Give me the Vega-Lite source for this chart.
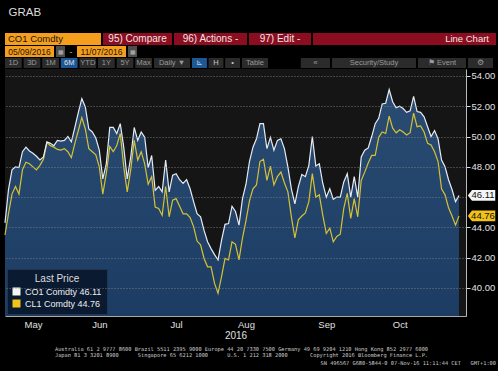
{
"$schema": "https://vega.github.io/schema/vega-lite/v6.json",
"background": "#000000",
"padding": {"left": 2, "top": 6, "right": 2, "bottom": 4},
"title": {"text": "GRAB", "anchor": "start", "dx": 6, "fontSize": 11.5, "fontWeight": "normal", "color": "#dddddd", "offset": 15},
"config": {"view": {"stroke": null}, "font": "Liberation Sans", "axis": {"labelOverlap": false}, "axisY": {"labelOverlap": false}, "axisQuantitative": {"labelOverlap": false}, "axisRight": {"labelOverlap": false}},
"spacing": 1,
"resolve": {"legend": {"fill": "independent"}, "scale": {"fill": "independent"}},
"datasets": {"prices": [
{"d":"2016-05-09","CO1":44.3,"CL1":43.5},{"d":"2016-05-10","CO1":46.5,"CL1":44.9},{"d":"2016-05-11","CO1":47.8,"CL1":46.2},{"d":"2016-05-12","CO1":48.0,"CL1":46.7},{"d":"2016-05-13","CO1":47.95,"CL1":46.2},
{"d":"2016-05-16","CO1":49.0,"CL1":47.8},{"d":"2016-05-17","CO1":49.3,"CL1":48.3},{"d":"2016-05-18","CO1":49.05,"CL1":48.2},{"d":"2016-05-19","CO1":48.9,"CL1":48.0},{"d":"2016-05-20","CO1":48.7,"CL1":47.8},
{"d":"2016-05-23","CO1":48.45,"CL1":48.1},{"d":"2016-05-24","CO1":48.65,"CL1":48.5},{"d":"2016-05-25","CO1":49.65,"CL1":49.6},{"d":"2016-05-26","CO1":49.55,"CL1":49.4},{"d":"2016-05-27","CO1":49.4,"CL1":49.3},
{"d":"2016-05-30","CO1":49.75,"CL1":49.15},{"d":"2016-05-31","CO1":49.7,"CL1":49.1},{"d":"2016-06-01","CO1":49.75,"CL1":49.2},{"d":"2016-06-02","CO1":50.0,"CL1":49.0},{"d":"2016-06-03","CO1":49.65,"CL1":48.6},
{"d":"2016-06-06","CO1":50.6,"CL1":49.55},{"d":"2016-06-07","CO1":51.6,"CL1":50.4},{"d":"2016-06-08","CO1":52.5,"CL1":51.25},{"d":"2016-06-09","CO1":51.95,"CL1":50.5},{"d":"2016-06-10","CO1":50.5,"CL1":49.2},
{"d":"2016-06-13","CO1":50.3,"CL1":49.0},{"d":"2016-06-14","CO1":49.9,"CL1":48.8},{"d":"2016-06-15","CO1":49.1,"CL1":48.0},{"d":"2016-06-16","CO1":47.2,"CL1":46.2},{"d":"2016-06-17","CO1":48.2,"CL1":47.55},
{"d":"2016-06-20","CO1":50.6,"CL1":49.35},{"d":"2016-06-21","CO1":50.6,"CL1":49.0},{"d":"2016-06-22","CO1":50.2,"CL1":49.4},{"d":"2016-06-23","CO1":50.85,"CL1":50.2},{"d":"2016-06-24","CO1":49.3,"CL1":48.0},
{"d":"2016-06-27","CO1":47.2,"CL1":46.35},{"d":"2016-06-28","CO1":48.65,"CL1":47.8},{"d":"2016-06-29","CO1":50.6,"CL1":49.75},{"d":"2016-06-30","CO1":49.75,"CL1":48.45},{"d":"2016-07-01","CO1":50.3,"CL1":49.0},
{"d":"2016-07-04","CO1":49.95,"CL1":48.2},{"d":"2016-07-05","CO1":47.95,"CL1":46.85},{"d":"2016-07-06","CO1":48.75,"CL1":47.35},{"d":"2016-07-07","CO1":46.45,"CL1":45.35},{"d":"2016-07-08","CO1":46.7,"CL1":45.25},
{"d":"2016-07-11","CO1":46.35,"CL1":44.8},{"d":"2016-07-12","CO1":48.45,"CL1":46.7},{"d":"2016-07-13","CO1":46.35,"CL1":44.7},{"d":"2016-07-14","CO1":47.45,"CL1":45.8},{"d":"2016-07-15","CO1":47.55,"CL1":45.9},
{"d":"2016-07-18","CO1":47.15,"CL1":45.4},{"d":"2016-07-19","CO1":46.9,"CL1":44.9},{"d":"2016-07-20","CO1":47.15,"CL1":44.9},{"d":"2016-07-21","CO1":46.55,"CL1":44.65},{"d":"2016-07-22","CO1":45.7,"CL1":44.05},
{"d":"2016-07-25","CO1":44.9,"CL1":43.1},{"d":"2016-07-26","CO1":44.7,"CL1":42.85},{"d":"2016-07-27","CO1":43.8,"CL1":41.95},{"d":"2016-07-28","CO1":43.05,"CL1":41.4},{"d":"2016-07-29","CO1":42.6,"CL1":41.4},
{"d":"2016-08-01","CO1":42.2,"CL1":40.3},{"d":"2016-08-02","CO1":41.85,"CL1":39.65},{"d":"2016-08-03","CO1":43.15,"CL1":40.75},{"d":"2016-08-04","CO1":44.2,"CL1":41.95},{"d":"2016-08-05","CO1":44.25,"CL1":41.85},
{"d":"2016-08-08","CO1":45.4,"CL1":43.05},{"d":"2016-08-09","CO1":45.05,"CL1":42.88},{"d":"2016-08-10","CO1":44.15,"CL1":41.85},{"d":"2016-08-11","CO1":45.9,"CL1":43.3},{"d":"2016-08-12","CO1":46.85,"CL1":44.45},
{"d":"2016-08-15","CO1":48.35,"CL1":45.75},{"d":"2016-08-16","CO1":49.3,"CL1":46.55},{"d":"2016-08-17","CO1":49.85,"CL1":46.8},{"d":"2016-08-18","CO1":50.85,"CL1":48.35},{"d":"2016-08-19","CO1":50.85,"CL1":48.5},
{"d":"2016-08-22","CO1":49.2,"CL1":47.1},{"d":"2016-08-23","CO1":49.95,"CL1":48.05},{"d":"2016-08-24","CO1":49.1,"CL1":46.8},{"d":"2016-08-25","CO1":49.75,"CL1":47.35},{"d":"2016-08-26","CO1":49.85,"CL1":47.65},
{"d":"2016-08-29","CO1":49.2,"CL1":46.95},{"d":"2016-08-30","CO1":48.0,"CL1":46.35},{"d":"2016-08-31","CO1":46.55,"CL1":44.7},{"d":"2016-09-01","CO1":45.55,"CL1":43.3},{"d":"2016-09-02","CO1":46.7,"CL1":44.5},
{"d":"2016-09-05","CO1":47.5,"CL1":44.75},{"d":"2016-09-06","CO1":47.35,"CL1":44.95},{"d":"2016-09-07","CO1":48.1,"CL1":45.7},{"d":"2016-09-08","CO1":50.0,"CL1":47.55},{"d":"2016-09-09","CO1":48.05,"CL1":46.0},
{"d":"2016-09-12","CO1":48.2,"CL1":46.15},{"d":"2016-09-13","CO1":46.9,"CL1":44.8},{"d":"2016-09-14","CO1":46.0,"CL1":43.6},{"d":"2016-09-15","CO1":46.55,"CL1":43.95},{"d":"2016-09-16","CO1":45.85,"CL1":43.05},
{"d":"2016-09-19","CO1":46.0,"CL1":43.4},{"d":"2016-09-20","CO1":46.0,"CL1":43.55},{"d":"2016-09-21","CO1":47.0,"CL1":45.25},{"d":"2016-09-22","CO1":47.55,"CL1":46.25},{"d":"2016-09-23","CO1":46.0,"CL1":44.6},
{"d":"2016-09-26","CO1":47.35,"CL1":45.9},{"d":"2016-09-27","CO1":46.0,"CL1":44.7},{"d":"2016-09-28","CO1":48.65,"CL1":47.1},{"d":"2016-09-29","CO1":49.1,"CL1":47.65},{"d":"2016-09-30","CO1":49.25,"CL1":48.25},
{"d":"2016-10-03","CO1":50.0,"CL1":48.75},{"d":"2016-10-04","CO1":50.85,"CL1":48.75},{"d":"2016-10-05","CO1":51.2,"CL1":49.95},{"d":"2016-10-06","CO1":52.15,"CL1":50.3},{"d":"2016-10-07","CO1":52.2,"CL1":50.2},
{"d":"2016-10-10","CO1":53.1,"CL1":51.35},{"d":"2016-10-11","CO1":52.3,"CL1":50.55},{"d":"2016-10-12","CO1":51.9,"CL1":50.25},{"d":"2016-10-13","CO1":52.0,"CL1":50.45},{"d":"2016-10-14","CO1":51.85,"CL1":50.3},
{"d":"2016-10-17","CO1":51.6,"CL1":50.1},{"d":"2016-10-18","CO1":51.7,"CL1":50.25},{"d":"2016-10-19","CO1":52.65,"CL1":51.55},{"d":"2016-10-20","CO1":51.65,"CL1":50.65},{"d":"2016-10-21","CO1":51.6,"CL1":50.7},
{"d":"2016-10-24","CO1":51.3,"CL1":50.3},{"d":"2016-10-25","CO1":50.65,"CL1":49.55},{"d":"2016-10-26","CO1":50.0,"CL1":49.45},{"d":"2016-10-27","CO1":50.4,"CL1":49.0},{"d":"2016-10-28","CO1":49.85,"CL1":48.35},
{"d":"2016-10-31","CO1":48.45,"CL1":46.55},{"d":"2016-11-01","CO1":48.0,"CL1":46.15},{"d":"2016-11-02","CO1":47.15,"CL1":45.3},{"d":"2016-11-03","CO1":46.5,"CL1":44.75},{"d":"2016-11-04","CO1":45.7,"CL1":44.15},
{"d":"2016-11-07","CO1":46.11,"CL1":44.76}
]},
"vconcat": [
{"spacing": 2, "hconcat": [
 {"width": 96, "height": 12, "data": {"values": [{"b": "CO1 Comdty"}]},
  "encoding": {"x": {"field": "b", "type": "nominal", "sort": null, "axis": null, "scale": {"paddingInner": 0, "paddingOuter": 0}}},
  "layer": [
   {"mark": {"type": "rect", "color": "#f59e1e"}},
   {"mark": {"type": "text", "align": "left", "dx": 3, "color": "#1c1408", "fontSize": 9.5},
    "encoding": {"x": {"field": "b", "type": "nominal", "sort": null, "axis": null, "bandPosition": 0}, "text": {"field": "b", "type": "nominal"}}}
  ]},
 {"width": 69, "height": 12, "data": {"values": [{"b": "95) Compare"}]},
  "encoding": {"x": {"field": "b", "type": "nominal", "sort": null, "axis": null, "scale": {"paddingInner": 0, "paddingOuter": 0}}},
  "layer": [
   {"mark": {"type": "rect", "color": "#8b0d1f"}},
   {"mark": {"type": "text", "color": "#f0e4e4", "fontSize": 10}, "encoding": {"text": {"field": "b", "type": "nominal"}}}
  ]},
 {"width": 73, "height": 12, "data": {"values": [{"b": "96) Actions -"}]},
  "encoding": {"x": {"field": "b", "type": "nominal", "sort": null, "axis": null, "scale": {"paddingInner": 0, "paddingOuter": 0}}},
  "layer": [
   {"mark": {"type": "rect", "color": "#8b0d1f"}},
   {"mark": {"type": "text", "color": "#f0e4e4", "fontSize": 10}, "encoding": {"text": {"field": "b", "type": "nominal"}}}
  ]},
 {"width": 62, "height": 12, "data": {"values": [{"b": "97) Edit -"}]},
  "encoding": {"x": {"field": "b", "type": "nominal", "sort": null, "axis": null, "scale": {"paddingInner": 0, "paddingOuter": 0}}},
  "layer": [
   {"mark": {"type": "rect", "color": "#8b0d1f"}},
   {"mark": {"type": "text", "color": "#f0e4e4", "fontSize": 10}, "encoding": {"text": {"field": "b", "type": "nominal"}}}
  ]},
 {"width": 183, "height": 12, "data": {"values": [{"b": "Line Chart"}]},
  "encoding": {"x": {"field": "b", "type": "nominal", "sort": null, "axis": null, "scale": {"paddingInner": 0, "paddingOuter": 0}}},
  "layer": [
   {"mark": {"type": "rect", "color": "#8b0d1f"}},
   {"mark": {"type": "text", "align": "right", "dx": -7, "color": "#f0e4e4", "fontSize": 9.5},
    "encoding": {"x": {"field": "b", "type": "nominal", "sort": null, "axis": null, "bandPosition": 1}, "text": {"field": "b", "type": "nominal"}}}
  ]}
]},
{"spacing": 2, "hconcat": [
 {"width": 49, "height": 11, "data": {"values": [{"b": "05/09/2016"}]},
  "encoding": {"x": {"field": "b", "type": "nominal", "sort": null, "axis": null, "scale": {"paddingInner": 0, "paddingOuter": 0}}},
  "layer": [
   {"mark": {"type": "rect", "color": "#f59e1e"}},
   {"mark": {"type": "text", "color": "#1c1408", "fontSize": 8.5}, "encoding": {"text": {"field": "b", "type": "nominal"}}}
  ]},
 {"width": 9, "height": 11, "data": {"values": [{"b": "▦"}]},
  "encoding": {"x": {"field": "b", "type": "nominal", "sort": null, "axis": null, "scale": {"paddingInner": 0, "paddingOuter": 0}}},
  "layer": [
   {"mark": {"type": "rect", "color": "#4d4d4d"}},
   {"mark": {"type": "text", "color": "#bbbbbb", "fontSize": 6}, "encoding": {"text": {"field": "b", "type": "nominal"}}}
  ]},
 {"width": 8, "height": 11, "data": {"values": [{"b": "-"}]},
  "mark": {"type": "text", "color": "#bbbbbb", "fontSize": 9},
  "encoding": {"x": {"field": "b", "type": "nominal", "axis": null}, "text": {"field": "b", "type": "nominal"}}},
 {"width": 49, "height": 11, "data": {"values": [{"b": "11/07/2016"}]},
  "encoding": {"x": {"field": "b", "type": "nominal", "sort": null, "axis": null, "scale": {"paddingInner": 0, "paddingOuter": 0}}},
  "layer": [
   {"mark": {"type": "rect", "color": "#f59e1e"}},
   {"mark": {"type": "text", "color": "#1c1408", "fontSize": 8.5}, "encoding": {"text": {"field": "b", "type": "nominal"}}}
  ]},
 {"width": 9, "height": 11, "data": {"values": [{"b": "▦"}]},
  "encoding": {"x": {"field": "b", "type": "nominal", "sort": null, "axis": null, "scale": {"paddingInner": 0, "paddingOuter": 0}}},
  "layer": [
   {"mark": {"type": "rect", "color": "#4d4d4d"}},
   {"mark": {"type": "text", "color": "#bbbbbb", "fontSize": 6}, "encoding": {"text": {"field": "b", "type": "nominal"}}}
  ]}
]},
{"spacing": 2, "hconcat": [
 {"width": 147, "height": 10, "data": {"values": [{"b": "1D"}, {"b": "3D"}, {"b": "1M"}, {"b": "6M"}, {"b": "YTD"}, {"b": "1Y"}, {"b": "5Y"}, {"b": "Max"}]},
  "encoding": {"x": {"field": "b", "type": "nominal", "sort": null, "axis": null, "scale": {"paddingInner": 0.1, "paddingOuter": 0}}},
  "layer": [
   {"mark": {"type": "rect"}, "encoding": {"fill": {"condition": {"test": "datum.b === '6M'", "value": "#1c5896"}, "value": "#2b2b2b"}}},
   {"mark": {"type": "text", "fontSize": 7.5}, "encoding": {"text": {"field": "b", "type": "nominal"}, "color": {"condition": {"test": "datum.b === '6M'", "value": "#e0e0e0"}, "value": "#9a9a9a"}}}
  ]},
 {"width": 36, "height": 10, "data": {"values": [{"b": "Daily ▼"}]},
  "encoding": {"x": {"field": "b", "type": "nominal", "sort": null, "axis": null, "scale": {"paddingInner": 0, "paddingOuter": 0}}},
  "layer": [
   {"mark": {"type": "rect", "color": "#2b2b2b"}},
   {"mark": {"type": "text", "fontSize": 7.5, "color": "#9a9a9a"}, "encoding": {"text": {"field": "b", "type": "nominal"}}}
  ]},
 {"width": 48, "height": 10, "data": {"values": [{"b": "⊾"}, {"b": "H"}, {"b": "•"}]},
  "encoding": {"x": {"field": "b", "type": "nominal", "sort": null, "axis": null, "scale": {"paddingInner": 0.1, "paddingOuter": 0}}},
  "layer": [
   {"mark": {"type": "rect"}, "encoding": {"fill": {"condition": {"test": "datum.b === '⊾'", "value": "#1c5896"}, "value": "#2b2b2b"}}},
   {"mark": {"type": "text", "fontSize": 7.5, "color": "#c8c8c8"}, "encoding": {"text": {"field": "b", "type": "nominal"}}}
  ]},
 {"width": 26, "height": 10, "data": {"values": [{"b": "Table"}]},
  "encoding": {"x": {"field": "b", "type": "nominal", "sort": null, "axis": null, "scale": {"paddingInner": 0, "paddingOuter": 0}}},
  "layer": [
   {"mark": {"type": "rect", "color": "#2b2b2b"}},
   {"mark": {"type": "text", "fontSize": 7.5, "color": "#9a9a9a"}, "encoding": {"text": {"field": "b", "type": "nominal"}}}
  ]},
 {"width": 60, "height": 10, "data": {"values": [{"b": "gap"}, {"b": "«"}]},
  "encoding": {"x": {"field": "b", "type": "nominal", "sort": null, "axis": null, "scale": {"paddingInner": 0.05, "paddingOuter": 0}}},
  "layer": [
   {"mark": {"type": "rect"}, "encoding": {"fill": {"condition": {"test": "datum.b === 'gap'", "value": "#000000"}, "value": "#2b2b2b"}}},
   {"mark": {"type": "text", "fontSize": 8, "color": "#9a9a9a"}, "encoding": {"text": {"condition": {"test": "datum.b === 'gap'", "value": ""}, "field": "b", "type": "nominal"}}}
  ]},
 {"width": 84, "height": 10, "data": {"values": [{"b": "Security/Study"}]},
  "encoding": {"x": {"field": "b", "type": "nominal", "sort": null, "axis": null, "scale": {"paddingInner": 0, "paddingOuter": 0}}},
  "layer": [
   {"mark": {"type": "rect", "color": "#2b2b2b"}},
   {"mark": {"type": "text", "fontSize": 7.5, "color": "#9a9a9a"}, "encoding": {"text": {"field": "b", "type": "nominal"}}}
  ]},
 {"width": 48, "height": 10, "data": {"values": [{"b": "⚑ Event"}]},
  "encoding": {"x": {"field": "b", "type": "nominal", "sort": null, "axis": null, "scale": {"paddingInner": 0, "paddingOuter": 0}}},
  "layer": [
   {"mark": {"type": "rect", "color": "#2b2b2b"}},
   {"mark": {"type": "text", "fontSize": 7.5, "color": "#9a9a9a"}, "encoding": {"text": {"field": "b", "type": "nominal"}}}
  ]},
 {"width": 25, "height": 10, "data": {"values": [{"b": "⚙"}]},
  "encoding": {"x": {"field": "b", "type": "nominal", "sort": null, "axis": null, "scale": {"paddingInner": 0, "paddingOuter": 0}}},
  "layer": [
   {"mark": {"type": "rect", "color": "#2b2b2b"}},
   {"mark": {"type": "text", "fontSize": 7.5, "color": "#9a9a9a"}, "encoding": {"text": {"field": "b", "type": "nominal"}}}
  ]}
]},
{"width": 461, "height": 247,
 "view": {"fill": "#151515", "stroke": null},
 "title": {"text": [
   "Australia 61 2 9777 8600 Brazil 5511 2395 9000 Europe 44 20 7330 7500 Germany 49 69 9204 1210 Hong Kong 852 2977 6000",
   "Japan 81 3 3201 8900\u00a0\u00a0\u00a0\u00a0\u00a0\u00a0Singapore 65 6212 1000\u00a0\u00a0\u00a0\u00a0\u00a0\u00a0U.S. 1 212 318 2000\u00a0\u00a0\u00a0\u00a0\u00a0\u00a0\u00a0Copyright 2016 Bloomberg Finance L.P."],
   "orient": "bottom", "anchor": "middle", "dx": 6, "font": "DejaVu Sans Mono", "fontSize": 5.3, "fontWeight": "normal", "color": "#cccccc", "lineHeight": 6.4, "offset": 6},
 "encoding": {
  "y": {"field": "v", "type": "quantitative", "title": null, "scale": {"domain": [38.15, 54.46], "nice": false, "zero": false},
   "axis": {"orient": "right", "values": [40, 42, 44, 46, 48, 50, 52, 54], "format": ".2f", "title": null, "zindex": 1, "grid": true, "gridColor": "#8a8a8a", "gridDash": [1, 2], "gridOpacity": 0.8,
    "tickSize": 4, "tickColor": "#dddddd", "labelOverlap": false, "labelBound": false, "labelFlush": false,
    "tickOpacity": {"condition": {"test": "datum.value === 46", "value": 0}, "value": 1},
    "labelOpacity": {"condition": {"test": "datum.value === 46", "value": 0}, "value": 1},
    "labelColor": "#e0e0e0", "labelFontSize": 9.5, "labelPadding": 1, "domainColor": "#bbbbbb"}}
 },
 "layer": [
  {"data": {"name": "prices"},
   "transform": [{"fold": ["CO1"], "as": ["s", "v"]}],
   "mark": {"type": "area", "clip": true, "color": {"gradient": "linear", "x1": 0, "y1": 0, "x2": 0, "y2": 1, "stops": [{"offset": 0, "color": "#2b4c72"}, {"offset": 0.45, "color": "#12325a"}, {"offset": 1, "color": "#082650"}]}},
   "encoding": {
    "x": {"field": "d", "type": "ordinal", "title": "2016", "scale": {"type": "point", "padding": 2, "align": 0},
     "axis": {"values": ["2016-05-19", "2016-06-15", "2016-07-15", "2016-08-12", "2016-09-14", "2016-10-13"], "labelExpr": "utcFormat(toDate(datum.value), '%b')", "labelAngle": 0, "ticks": false, "grid": false, "labelColor": "#e0e0e0", "labelFontSize": 9.5, "labelPadding": 3, "title": "2016", "titleColor": "#e0e0e0", "titleFontSize": 10, "titleFontWeight": "normal", "titlePadding": 2, "domainColor": "#aaaaaa", "zindex": 1}}
   }},
  {"data": {"values": [{"d": "2016-06-01"}, {"d": "2016-07-01"}, {"d": "2016-08-01"}, {"d": "2016-09-01"}, {"d": "2016-10-03"}, {"d": "2016-11-01"}]},
   "mark": {"type": "rule", "color": "#8a8a8a", "strokeDash": [1, 2], "strokeWidth": 1, "opacity": 0.8},
   "encoding": {"x": {"field": "d", "type": "ordinal", "title": "2016", "scale": {"type": "point", "padding": 2, "align": 0}}, "y": {"datum": 54.46}, "y2": {"datum": 38.15}}},
  {"data": {"name": "prices"},
   "transform": [{"fold": ["CL1", "CO1"], "as": ["s", "v"]}],
   "mark": {"type": "line", "strokeWidth": 1.2},
   "encoding": {
    "x": {"field": "d", "type": "ordinal", "title": "2016", "scale": {"type": "point", "padding": 2, "align": 0}},
    "color": {"field": "s", "type": "nominal", "scale": {"domain": ["CL1", "CO1"], "range": ["#d6c232", "#e6ebf3"]}, "legend": null}
   }},
  {"data": {"values": [{"s": "CO1 Comdty", "v": 46.11}, {"s": "CL1 Comdty", "v": 44.76}]},
   "mark": {"type": "point", "filled": true, "opacity": 1, "size": 900, "strokeWidth": 0, "shape": "M 0.12 0 L 0.4 -0.36 L 1.95 -0.36 L 1.95 0.36 L 0.4 0.36 Z"},
   "encoding": {
    "x": {"value": "width"},
    "fill": {"field": "s", "type": "nominal", "scale": {"domain": ["CO1 Comdty", "CL1 Comdty"], "range": ["#f5f5f5", "#f0c21a"]},
     "legend": {"title": "Last Price", "orient": "bottom-left", "offset": 2, "padding": 5, "fillColor": "#0a1a31", "strokeColor": "#24364f", "symbolType": "square", "symbolSize": 64, "symbolStrokeWidth": 0, "labelColor": "#eeeeee", "labelFontSize": 9, "titleColor": "#dddddd", "titleFontSize": 10, "titleFontWeight": "normal", "titleAnchor": "middle", "titlePadding": 3, "rowPadding": 2,
      "labelExpr": "datum.label === 'CO1 Comdty' ? 'CO1 Comdty 46.11' : 'CL1 Comdty 44.76'"}}
   }},
  {"data": {"values": [{"s": "CO1 Comdty", "v": 46.11}, {"s": "CL1 Comdty", "v": 44.76}]},
   "mark": {"type": "text", "dx": 17, "align": "center", "baseline": "middle", "fontSize": 9.5, "color": "#111111"},
   "encoding": {
    "x": {"value": "width"},
    "text": {"field": "v", "type": "quantitative", "format": ".2f"}
   }}
 ]},
{"width": 491, "height": 1,
 "data": {"values": []},
 "mark": {"type": "text"},
 "title": {"text": "SN 496567 G680-5844-0 07-Nov-16 11:11:44 CET\u00a0\u00a0\u00a0GMT+1:00", "orient": "top", "anchor": "end", "font": "DejaVu Sans Mono", "fontSize": 5.3, "fontWeight": "normal", "color": "#cccccc", "offset": 0}}
]
}
